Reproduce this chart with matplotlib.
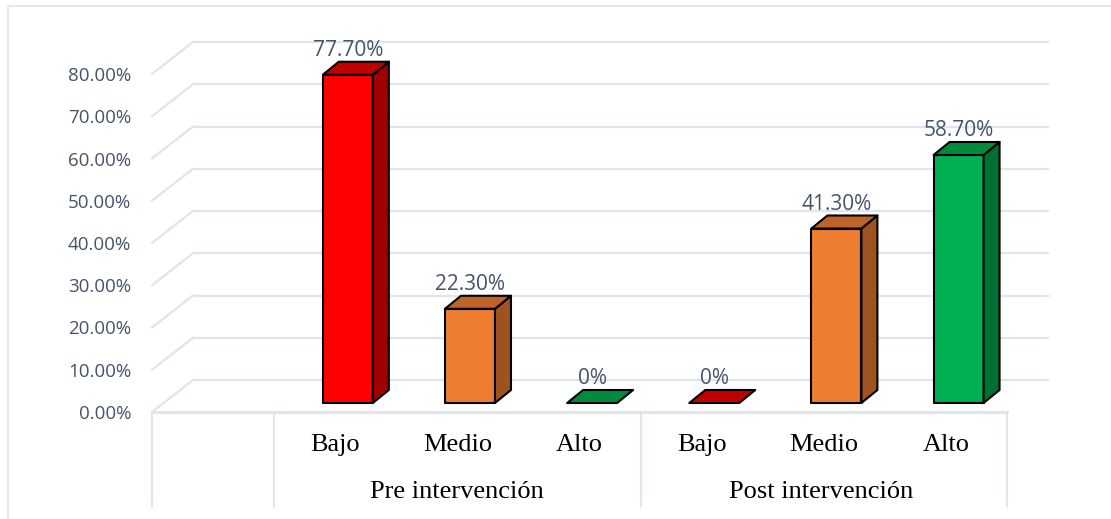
import matplotlib
matplotlib.use("Agg")
import matplotlib.pyplot as plt
from matplotlib.lines import Line2D
from matplotlib.patches import Polygon

levels = ['Bajo', 'Medio', 'Alto', 'Bajo', 'Medio', 'Alto']
groups = ['Pre intervención', 'Post intervención']
values = [77.7, 22.3, 0, 0, 41.3, 58.7]
labels = ['77.70%', '22.30%', '0%', '0%', '41.30%', '58.70%']
yticks = [0, 10, 20, 30, 40, 50, 60, 70, 80]

front_colors = ['#FF0000', '#ED7D31', '#00B050', '#FF0000', '#ED7D31', '#00B050']
top_colors = ['#C00000', '#BE6428', '#008A3E', '#C00000', '#BE6428', '#008A3E']
side_colors = ['#A00000', '#9E5320', '#006F32', '#A00000', '#9E5320', '#006F32']

W, H = 1111, 519
GRID = '#E0E4EC'
TEXT = '#44546A'

fig = plt.figure(figsize=(W / 100, H / 100), dpi=100)

# frame only shows on the left and top
fig.add_artist(Line2D([8 / W, 8 / W, 1], [1 - 518 / H, 1 - 6 / H, 1 - 6 / H],
                      transform=fig.transFigure, color='#E4E7EE', lw=1.5))

# axes: x in category slots, y in percent, pixels
ax = fig.add_axes([152 / W, 1 - 412 / H, 855 / W, 338 / H])
ax.set_xlim(0, 7)
ax.set_ylim(0, 80)
for s in ax.spines.values():
    s.set_visible(False)

px_x = 7 / 855
px_y = 80 / 338
back_x, back_y = 41 * px_x, 32 * px_y

# walls
for t in yticks:
    ax.plot([0, back_x], [t, t + back_y], color=GRID, lw=1.6, clip_on=False, zorder=1)
    ax.plot([back_x, 7 + back_x], [t + back_y, t + back_y], color=GRID, lw=1.6, clip_on=False, zorder=1)
ax.plot([0, 7], [0, 0], color=GRID, lw=2, clip_on=False, zorder=1)

# category separators
for x in [0, 1, 4, 7]:
    ax.plot([x, x], [0, -94 * px_y], color=GRID, lw=1.6, clip_on=False, zorder=1)

bar_w = 50 * px_x
dep_x, dep_y = 16 * px_x, 13 * px_y
lift = 9 * px_y

for i, v in enumerate(values):
    x0 = 1 + i + 48.7 * px_x
    x1 = x0 + bar_w
    y0 = lift
    y1 = lift + v
    style = dict(ec='black', lw=1.5, joinstyle='round', clip_on=False, zorder=3)
    if v > 0:
        ax.add_patch(Polygon([(x0, y0), (x1, y0), (x1, y1), (x0, y1)], fc=front_colors[i], **style))
        ax.add_patch(Polygon([(x1, y0), (x1 + dep_x, y0 + dep_y), (x1 + dep_x, y1 + dep_y), (x1, y1)],
                             fc=side_colors[i], **style))
    ax.add_patch(Polygon([(x0, y1), (x1, y1), (x1 + dep_x, y1 + dep_y), (x0 + dep_x, y1 + dep_y)],
                         fc=top_colors[i], **style))
    ax.text((x0 + x1) / 2, y1 + dep_y + 11 * px_y, labels[i], ha='center', va='center',
            family='Open Sans', fontsize=15, color=TEXT, zorder=4)

ax.set_yticks(yticks)
ax.set_yticklabels([f'{t:.2f}%' for t in yticks], family='Open Sans', fontsize=13.5, color=TEXT)
ax.set_xticks([i + 1.5 for i in range(6)])
ax.set_xticklabels(levels, family='Liberation Serif', fontsize=19, color='black')
ax.tick_params(axis='y', length=0, pad=15)
ax.tick_params(axis='x', length=0, pad=16)

ax.text(2.5, -80 * px_y, groups[0], ha='center', va='center', family='Liberation Serif', fontsize=19, color='black')
ax.text(5.48, -80 * px_y, groups[1], ha='center', va='center', family='Liberation Serif', fontsize=19, color='black')

fig.savefig('out.png', dpi=100)
